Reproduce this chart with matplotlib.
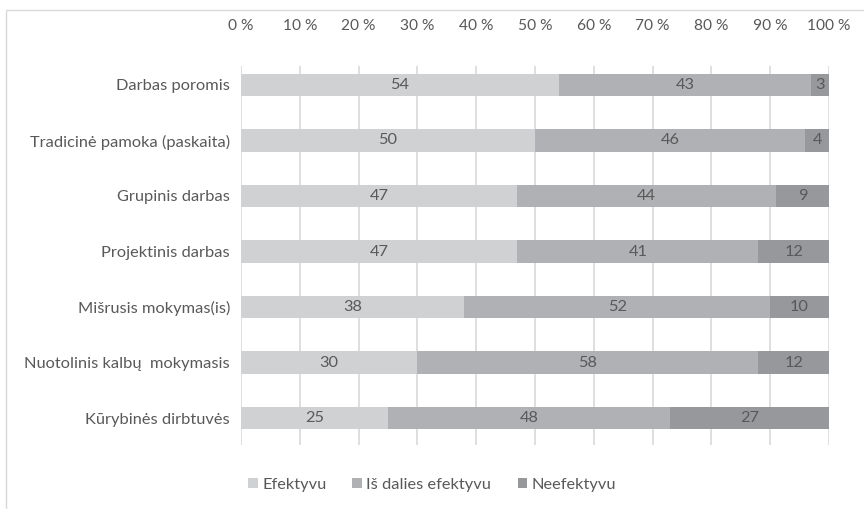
import numpy as np
import matplotlib.pyplot as plt
from matplotlib.patches import Rectangle, Patch
from matplotlib.ticker import FuncFormatter

plt.rcParams['font.family'] = ['Lato', 'DejaVu Sans']

categories = ['Darbas poromis', 'Tradicinė pamoka (paskaita)', 'Grupinis darbas',
              'Projektinis darbas', 'Mišrusis mokymas(is)', 'Nuotolinis kalbų  mokymasis',
              'Kūrybinės dirbtuvės']
efektyvu = [54, 50, 47, 47, 38, 30, 25]
is_dalies = [43, 46, 44, 41, 52, 58, 48]
neefektyvu = [3, 4, 9, 12, 10, 12, 27]
series_names = ['Efektyvu', 'Iš dalies efektyvu', 'Neefektyvu']
colors = ['#D0D1D3', '#B0B1B4', '#97989B']
text_col = '#595959'
fs = 11.8

fig = plt.figure(figsize=(8.64, 5.09), dpi=100)
fig.patches.append(Rectangle((6 / 864, -0.1), 1.2, 1.1 - 10 / 509, transform=fig.transFigure,
                             fill=False, edgecolor='#D9D9D9', linewidth=1.0))
ax = fig.add_axes([241 / 864, 1 - 445 / 509, (829 - 241) / 864, (445 - 66) / 509])

y = np.arange(len(categories))
left = np.zeros(len(categories))
for vals, name, c in zip([efektyvu, is_dalies, neefektyvu], series_names, colors):
    vals = np.array(vals)
    ax.barh(y, vals, left=left, height=0.4, color=c, label=name, zorder=2)
    for yi, l, v in zip(y, left, vals):
        ax.text(l + v / 2, yi, str(v), ha='center', va='center', fontsize=fs, color=text_col, zorder=3)
    left += vals

ax.set_xlim(0, 100)
ax.set_ylim(6.486, -0.342)
ax.set_xticks(np.arange(0, 101, 10))
ax.xaxis.set_major_formatter(FuncFormatter(lambda v, p: f'{int(v)} %'))
ax.xaxis.tick_top()
ax.tick_params(axis='x', length=0, pad=24, labelsize=11.2, labelcolor=text_col)
ax.tick_params(axis='y', length=0, pad=8, labelsize=fs, labelcolor=text_col)
ax.set_yticks(y)
ax.set_yticklabels(categories)
ax.grid(axis='x', color='#D9D9D9', linewidth=1.2, zorder=0)
ax.set_axisbelow(True)
for s in ax.spines.values():
    s.set_visible(False)

handles = [Patch(facecolor=c, edgecolor='none') for c in colors]
fig.legend(handles, series_names, loc='center', bbox_to_anchor=(0.5, 1 - 485 / 509), ncol=3,
           frameon=False, fontsize=fs, labelcolor=text_col, handlelength=0.6, handleheight=0.6,
           handletextpad=0.25, columnspacing=1.6)

fig.savefig('out.png', dpi=100)
